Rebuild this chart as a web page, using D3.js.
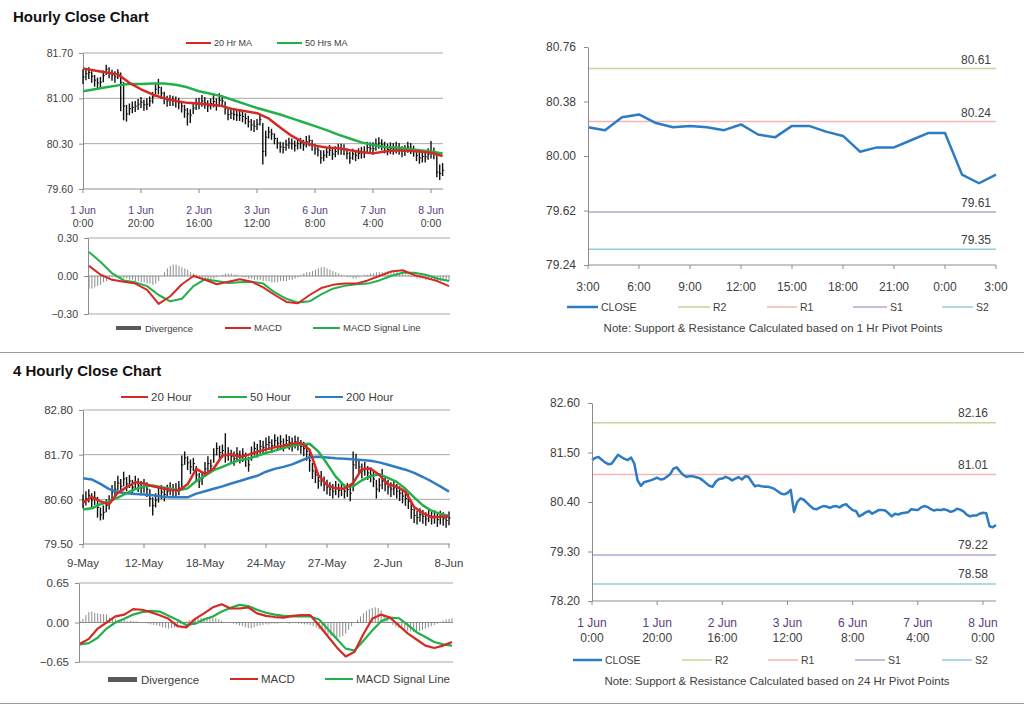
<!DOCTYPE html>
<html><head><meta charset="utf-8">
<script src="https://cdn.jsdelivr.net/npm/d3@7"></script>
<style>body{margin:0;background:#fff}svg{display:block}</style>
</head><body>
<svg id="c" width="1024" height="706"></svg>
<script>
// ---------------- DATA ----------------
// Hourly bars (1 Jun 0:00 .. 8 Jun ~4:00)
const hourlyTickIdx = [0,20,40,60,80,100,120];
const hourlyTickDay = ["1 Jun","1 Jun","2 Jun","3 Jun","6 Jun","7 Jun","8 Jun"];
const hourlyTickTime = ["0:00","20:00","16:00","12:00","8:00","4:00","0:00"];
const hClose = [81.33,81.38,81.40,81.34,81.28,81.24,81.25,81.35,81.45,81.40,81.36,81.33,81.39,81.25,80.88,80.76,80.84,80.86,80.88,80.91,
80.94,80.90,80.91,80.96,81.02,81.14,81.17,81.08,81.00,80.96,80.97,80.97,80.95,80.93,80.88,80.82,80.76,80.74,80.85,80.91,
80.92,80.96,80.93,80.88,80.92,80.95,80.90,80.97,80.96,80.85,80.75,80.77,80.75,80.74,80.74,80.72,80.69,80.64,80.59,80.57,
80.60,80.67,80.18,80.40,80.48,80.45,80.38,80.31,80.25,80.24,80.28,80.31,80.30,80.27,80.30,80.31,80.28,80.33,80.35,80.28,
80.22,80.20,80.08,80.12,80.17,80.20,80.14,80.18,80.22,80.22,80.21,80.15,80.08,80.14,80.12,80.15,80.16,80.17,80.24,80.23,
80.22,80.28,80.31,80.29,80.24,80.21,80.23,80.22,80.24,80.22,80.18,80.20,80.25,80.23,80.19,80.12,80.08,80.10,80.10,80.14,
80.16,80.15,79.86,79.84,79.89];
const hHigh = [81.45,81.47,81.48,81.42,81.36,81.32,81.33,81.43,81.52,81.48,81.44,81.42,81.45,81.40,81.25,80.90,80.92,80.95,80.96,80.99,
81.02,80.98,81.00,81.03,81.10,81.24,81.30,81.18,81.10,81.04,81.05,81.04,81.03,81.01,80.96,80.90,80.85,80.83,80.93,81.00,
81.01,81.05,81.02,80.97,81.00,81.05,81.00,81.08,81.05,80.95,80.84,80.85,80.83,80.82,80.82,80.80,80.77,80.73,80.68,80.66,
80.68,80.76,80.62,80.50,80.56,80.53,80.46,80.39,80.33,80.32,80.36,80.39,80.38,80.35,80.38,80.39,80.36,80.42,80.43,80.36,
80.30,80.28,80.20,80.20,80.25,80.28,80.22,80.26,80.30,80.30,80.29,80.23,80.17,80.22,80.20,80.23,80.25,80.26,80.33,80.32,
80.32,80.38,80.40,80.37,80.33,80.30,80.32,80.31,80.33,80.31,80.26,80.28,80.33,80.31,80.27,80.20,80.17,80.18,80.19,80.23,
80.34,80.24,80.12,79.98,80.00];
const hLow = [81.22,81.28,81.30,81.24,81.18,81.15,81.16,81.25,81.36,81.31,81.27,81.24,81.30,80.80,80.66,80.64,80.74,80.77,80.79,80.82,
80.85,80.81,80.82,80.87,80.92,81.02,81.06,80.99,80.91,80.87,80.88,80.88,80.86,80.83,80.78,80.70,80.58,80.62,80.76,80.82,
80.83,80.87,80.84,80.79,80.83,80.86,80.81,80.88,80.87,80.75,80.66,80.68,80.66,80.65,80.65,80.63,80.60,80.55,80.50,80.48,
80.51,80.58,79.98,80.10,80.38,80.36,80.29,80.22,80.16,80.15,80.19,80.22,80.21,80.18,80.21,80.22,80.19,80.24,80.26,80.19,
80.13,80.10,79.99,80.03,80.08,80.11,80.05,80.09,80.13,80.13,80.12,80.06,79.99,80.05,80.03,80.06,80.07,80.08,80.15,80.14,
80.13,80.19,80.22,80.20,80.15,80.12,80.14,80.13,80.15,80.13,80.09,80.11,80.16,80.14,80.10,80.03,79.99,80.01,80.01,80.05,
80.07,80.06,79.78,79.74,79.80];
// moving averages, read every 4th hourly bar
const hSampleStep = 4;
const hMA20 = [81.46,81.43,81.40,81.37,81.24,81.14,81.06,81.00,80.96,80.93,80.92,80.90,80.88,80.83,80.80,80.77,
80.69,80.55,80.42,80.32,80.27,80.24,80.23,80.20,80.17,80.15,80.18,80.20,80.19,80.18,80.16,80.11];
const hMA50 = [81.11,81.14,81.17,81.20,81.22,81.22,81.23,81.23,81.21,81.17,81.11,81.07,81.03,80.97,80.91,80.85,
80.80,80.75,80.69,80.63,80.57,80.51,80.44,80.38,80.32,80.28,80.25,80.24,80.22,80.20,80.18,80.15];
const hMACD = [0.08,0.01,-0.03,-0.045,-0.06,-0.11,-0.22,-0.16,-0.065,0.0,-0.03,-0.065,-0.045,-0.025,-0.045,-0.09,
-0.15,-0.205,-0.215,-0.15,-0.095,-0.07,-0.06,-0.06,-0.035,0.0,0.035,0.045,0.008,-0.015,-0.04,-0.08];
const hSignal = [0.19,0.11,0.02,-0.035,-0.05,-0.08,-0.15,-0.20,-0.18,-0.08,-0.025,-0.04,-0.055,-0.05,-0.045,-0.06,
-0.13,-0.18,-0.21,-0.20,-0.145,-0.10,-0.078,-0.065,-0.06,-0.035,0.0,0.025,0.026,0.01,-0.02,-0.04];
const hDiverg = [-0.10,-0.10,-0.09,-0.08,-0.07,-0.05,-0.04,-0.03,
-0.01,-0.01,-0.01,-0.02,-0.02,-0.02,-0.03,-0.03,-0.04,-0.04,-0.05,-0.05,-0.06,-0.06,-0.07,-0.06,-0.04,
0.0,0.03,0.06,0.08,0.09,0.09,0.08,0.07,0.06,0.05,0.03,0.02,0.01,
-0.01,-0.02,-0.02,-0.03,-0.02,-0.02,-0.01,0.0,0.01,0.02,
0.02,0.02,0.01,0.01,0.0,
-0.01,-0.01,-0.02,-0.02,-0.03,-0.03,-0.03,-0.04,-0.04,-0.04,-0.05,-0.05,-0.05,-0.04,-0.04,-0.04,-0.03,-0.03,-0.02,-0.01,
0.01,0.02,0.03,0.03,0.04,0.05,0.06,0.07,0.07,0.06,0.05,0.04,0.03,0.02,0.01,
0.0,-0.01,-0.01,-0.02,-0.02,-0.01,0.0,0.01,0.01,0.02,0.02,0.03,0.03,
0.03,0.03,0.04,0.04,0.03,0.03,0.02,0.02,0.01,0.01,
-0.01,-0.01,-0.02,-0.02,-0.02,-0.03,-0.03,-0.03,-0.03,-0.04,-0.04,-0.04,-0.04,-0.04];

// Last 24 hours, 1 Hr pivots
const trHours = ["3:00","6:00","9:00","12:00","15:00","18:00","21:00","0:00","3:00"];
const trClose = [80.20,80.18,80.27,80.29,80.23,80.20,80.21,80.20,80.18,80.22,80.15,80.13,80.21,80.21,80.17,80.14,
80.03,80.06,80.06,80.11,80.16,80.16,79.87,79.81,79.87];
const trLevelNames = ["R2","R1","S1","S2"];
const trLevels = [80.61,80.24,79.61,79.35];
const trYTicks = [80.76,80.38,80.00,79.62,79.24];
// 24 Hr pivots
const brLevels = [82.16,81.01,79.22,78.58];
const brYTicks = [82.60,81.50,80.40,79.30,78.20];

// 4-hourly bars
const fhTickIdx = [0,21,42,63,84,105,126];
const fhTickLabels = ["9-May","12-May","18-May","24-May","27-May","2-Jun","8-Jun"];
const fhClose = [80.55,80.62,80.70,80.58,80.64,80.40,80.22,80.28,80.45,80.52,80.78,80.85,81.00,80.92,81.10,80.98,81.05,80.90,81.02,80.95,
80.88,80.94,80.85,80.62,80.45,80.58,80.70,80.78,80.72,80.80,80.86,80.82,80.85,80.88,81.45,81.62,81.50,81.40,81.48,81.20,
81.05,81.12,81.35,81.48,81.42,81.70,81.85,81.75,81.80,81.68,81.72,81.66,81.60,81.72,81.65,81.70,81.58,81.45,81.75,81.85,
81.80,81.90,81.88,81.95,82.00,81.92,82.05,81.98,82.02,81.95,82.05,82.00,81.96,82.02,81.98,81.90,81.85,81.78,81.55,81.30,
81.20,81.05,81.12,80.98,80.90,80.85,80.80,80.88,80.82,80.86,80.80,80.84,80.75,81.45,81.55,81.40,81.30,81.35,81.25,81.20,
81.10,80.85,80.95,81.05,80.98,80.90,80.85,80.88,80.80,80.75,80.68,80.62,80.55,80.35,80.20,80.15,80.22,80.18,80.12,80.20,
80.15,80.18,80.10,80.16,80.12,80.08,80.14];
const fhHigh = [80.72,80.80,80.85,80.75,80.80,80.66,80.40,80.45,80.60,80.70,80.95,81.05,81.18,81.10,81.28,81.15,81.20,81.08,81.18,81.12,
81.05,81.10,81.02,80.85,80.65,80.75,80.88,80.95,80.90,80.96,81.02,80.98,81.00,81.05,81.68,81.78,81.66,81.58,81.62,81.42,
81.25,81.30,81.52,81.66,81.58,81.86,82.00,81.92,81.95,82.23,81.88,81.82,81.78,81.88,81.80,81.86,81.75,81.65,81.90,82.02,
81.96,82.06,82.04,82.12,82.16,82.08,82.20,82.14,82.18,82.10,82.20,82.16,82.12,82.17,82.14,82.06,82.02,81.95,81.80,81.50,
81.38,81.24,81.30,81.16,81.08,81.02,80.98,81.05,80.99,81.02,80.97,81.00,80.92,81.78,81.72,81.58,81.48,81.52,81.42,81.38,
81.30,81.08,81.12,81.35,81.16,81.08,81.02,81.05,80.98,80.92,80.86,80.80,80.74,80.55,80.38,80.32,80.38,80.34,80.28,80.36,
80.30,80.33,80.26,80.32,80.28,80.24,80.30];
const fhLow = [80.38,80.45,80.52,80.40,80.46,80.15,80.08,80.10,80.28,80.35,80.60,80.68,80.82,80.75,80.92,80.80,80.88,80.72,80.85,80.78,
80.70,80.76,80.66,80.42,80.20,80.40,80.52,80.60,80.55,80.63,80.70,80.66,80.68,80.70,80.90,81.45,81.32,81.22,81.30,81.02,
80.88,80.95,81.15,81.30,81.25,81.50,81.68,81.58,81.62,81.50,81.55,81.50,81.43,81.55,81.48,81.52,81.40,81.28,81.55,81.68,
81.63,81.72,81.70,81.78,81.82,81.75,81.88,81.80,81.85,81.78,81.88,81.82,81.78,81.85,81.80,81.72,81.66,81.55,81.28,81.10,
81.00,80.86,80.92,80.80,80.72,80.68,80.62,80.70,80.64,80.68,80.62,80.66,80.55,80.80,81.35,81.22,81.12,81.18,81.08,81.02,
80.90,80.62,80.78,80.85,80.80,80.72,80.66,80.70,80.62,80.56,80.50,80.44,80.36,80.12,80.02,79.98,80.05,80.00,79.95,80.04,
79.98,80.00,79.92,79.98,79.95,79.90,79.96];
// moving averages / MACD read every 3rd 4-hour bar
const fhSampleStep = 3;
const fhMA20 = [80.52,80.66,80.55,80.48,80.76,80.90,81.02,80.99,80.92,80.88,80.83,80.82,80.97,81.35,81.22,81.36,81.68,81.71,81.65,81.70,
81.77,81.83,81.88,81.92,81.97,81.99,81.82,81.20,80.95,80.87,80.86,81.00,81.35,81.36,81.20,80.97,80.91,80.79,80.41,80.26,
80.16,80.17,80.18];
const fhMA50 = [80.35,80.38,80.48,80.55,80.64,80.75,80.85,80.92,80.94,80.90,80.86,80.82,80.87,81.05,81.18,81.32,81.40,81.49,81.57,81.60,
81.67,81.74,81.80,81.86,81.92,81.95,81.97,81.78,81.48,81.16,80.93,80.92,81.07,81.17,81.22,81.13,81.03,80.86,80.65,80.45,
80.32,80.24,80.19];
const fhMA200 = [81.12,81.09,80.98,80.85,80.78,80.75,80.73,80.72,80.70,80.67,80.65,80.65,80.65,80.74,80.80,80.86,80.92,80.99,81.05,81.12,
81.18,81.28,81.35,81.40,81.46,81.55,81.64,81.65,81.63,81.61,81.60,81.59,81.57,81.55,81.51,81.45,81.39,81.33,81.25,81.15,
81.04,80.92,80.79];
const fhMACD = [-0.35,-0.27,-0.10,0.00,0.10,0.13,0.22,0.21,0.17,0.12,0.06,-0.06,-0.08,0.06,0.15,0.25,0.30,0.23,0.23,0.25,
0.15,0.11,0.09,0.08,0.11,0.12,0.12,-0.05,-0.23,-0.41,-0.56,-0.48,-0.19,0.06,0.13,0.08,-0.05,-0.18,-0.28,-0.38,
-0.42,-0.38,-0.32];
const fhSignal = [-0.36,-0.34,-0.25,-0.10,0.00,0.06,0.13,0.17,0.19,0.18,0.11,0.04,-0.04,-0.02,0.05,0.10,0.18,0.24,0.29,0.27,
0.21,0.16,0.13,0.11,0.10,0.10,0.10,0.05,-0.11,-0.27,-0.43,-0.46,-0.30,-0.13,0.02,0.08,0.07,-0.04,-0.16,-0.24,
-0.32,-0.36,-0.38];
const fhDiverg = [0.03,0.06,0.12,0.17,0.18,0.16,0.15,0.14,0.14,0.13,0.08,0.06,0.05,0.04,
0.03,0.04,0.02,0.03,0.02,0.02,0.01,0.0,-0.01,
-0.02,-0.03,-0.04,-0.05,-0.06,-0.08,-0.09,-0.10,-0.09,-0.08,-0.05,
-0.02,0.0,0.02,0.04,
0.05,0.06,0.07,0.08,0.08,0.09,0.08,0.08,0.07,0.05,0.03,
0.01,0.0,-0.01,-0.02,
-0.03,-0.05,-0.06,-0.08,-0.09,-0.10,-0.08,-0.06,
-0.05,-0.04,-0.03,-0.03,-0.02,-0.02,-0.02,-0.01,-0.01,-0.01,-0.02,-0.01,-0.01,-0.02,-0.02,-0.03,-0.03,-0.04,-0.06,-0.08,
-0.11,-0.14,-0.17,-0.20,-0.22,-0.24,-0.25,-0.24,-0.22,-0.18,-0.12,-0.06,0.0,
0.05,0.10,0.15,0.19,0.22,0.24,0.25,0.24,0.20,0.13,0.06,
0.0,-0.04,-0.07,-0.09,-0.11,-0.12,-0.14,-0.15,-0.16,-0.15,-0.14,-0.12,-0.10,-0.08,-0.06,-0.04,-0.02,
0.01,0.03,0.05,0.06,0.07];

// ---------------- STYLE ----------------
const FONT = "'Liberation Sans', Arial, sans-serif";
const TXT = "#404040", GRID = "#a8a8a8", AXIS = "#8c8c8c";
const RED = "#d42a23", GREEN = "#22b04b", BLUE = "#2f7cc3", CLOSEC = "#2b7cc4";
const LVLC = {R2:"#c3d69b", R1:"#f2b6b6", S1:"#b7a5cf", S2:"#93cddd"};
const fmt2 = d3.format(".2f");

const svg = d3.select("#c").attr("font-family", FONT);

function text(x, y, s, size, opts = {}) {
  return svg.append("text").attr("x", x).attr("y", y).text(s)
    .attr("font-size", size).attr("fill", opts.fill || TXT)
    .attr("font-weight", opts.bold ? "bold" : null)
    .attr("text-anchor", opts.anchor || "start");
}
function hline(x1, x2, y, color, w = 1) {
  svg.append("line").attr("x1", x1).attr("x2", x2).attr("y1", y).attr("y2", y)
    .attr("stroke", color).attr("stroke-width", w);
}
function yAxis(x0, y, vals, size, pad) {
  const g = svg.append("g").attr("transform", `translate(${x0},0)`)
    .call(d3.axisLeft(y).tickValues(vals).tickSize(4).tickSizeOuter(0).tickPadding(pad).tickFormat(fmt2));
  g.attr("font-family", FONT).attr("font-size", size);
  g.select(".domain").attr("stroke", AXIS);
  g.selectAll(".tick line").attr("stroke", AXIS);
  g.selectAll(".tick text").attr("fill", TXT);
  return g;
}
function xTicks(x, y0, idx) {
  svg.append("g").selectAll("line").data(idx).join("line")
    .attr("x1", d => x(d)).attr("x2", d => x(d)).attr("y1", y0).attr("y2", y0 + 4)
    .attr("stroke", AXIS);
}
function legendLine(x1, x2, y, color, label, size, w = 2) {
  hline(x1, x2, y, color, w);
  text(x2 + 3, y + size * 0.36, label, size);
}
function pathLine(data, xf, y, color, w) {
  svg.append("path").datum(data)
    .attr("d", d3.line().x((d, i) => xf(i)).y(d => y(d)))
    .attr("fill", "none").attr("stroke", color).attr("stroke-width", w)
    .attr("stroke-linejoin", "round");
}
function ohlc(x, y, hi, lo, cl) {
  const g = svg.append("g").attr("stroke", "#111");
  g.selectAll("line.hl").data(hi).join("line").attr("class", "hl")
    .attr("x1", (d, i) => x(i)).attr("x2", (d, i) => x(i))
    .attr("y1", d => y(d)).attr("y2", (d, i) => y(lo[i])).attr("stroke-width", 1.4);
  g.selectAll("line.cl").data(cl).join("line").attr("class", "cl")
    .attr("x1", (d, i) => x(i)).attr("x2", (d, i) => x(i) + 1.6)
    .attr("y1", d => y(d)).attr("y2", d => y(d)).attr("stroke-width", 1);
}
function divBars(x, y, d) {
  svg.append("g").selectAll("line").data(d).join("line")
    .attr("x1", (v, i) => x(i)).attr("x2", (v, i) => x(i))
    .attr("y1", y(0)).attr("y2", v => y(v))
    .attr("stroke", "#8a8a8a").attr("stroke-width", 1);
}

// ---------------- TITLES / SEPARATORS ----------------
text(13, 22, "Hourly Close Chart", 15, {bold: true, fill: "#111"});
text(13, 376, "4 Hourly Close Chart", 15, {bold: true, fill: "#111"});
hline(0, 1024, 352.5, "#9a9a9a", 1);
hline(0, 1024, 703.5, "#9a9a9a", 1);

// ---------------- PANEL 1: hourly OHLC ----------------
{
  const x = d3.scaleLinear().domain([0, 124]).range([83, 442.6]);
  const y = d3.scaleLinear().domain([79.60, 81.70]).range([189, 53]);
  [81.70, 81.00, 80.30].forEach(v => hline(83, 443, y(v), GRID));
  hline(83, 443, y(79.60), AXIS);
  yAxis(83, y, [81.70, 81.00, 80.30, 79.60], 10.5, 6);
  xTicks(x, y(79.60), hourlyTickIdx);
  hourlyTickIdx.forEach((t, k) => {
    text(x(t), 214, hourlyTickDay[k], 10.5, {anchor: "middle", fill: "#5a3e7a"});
    text(x(t), 227, hourlyTickTime[k], 10.5, {anchor: "middle"});
  });
  ohlc(x, y, hHigh, hLow, hClose);
  const xm = i => x(i * hSampleStep);
  pathLine(hMA50, xm, y, GREEN, 2.5);
  pathLine(hMA20, xm, y, RED, 2.5);
  legendLine(186, 211, 43, RED, "20 Hr MA", 9);
  legendLine(277, 302, 43, GREEN, "50 Hrs MA", 9);
}
// ---------------- PANEL 2: hourly MACD ----------------
{
  const x = d3.scaleLinear().domain([0, 124]).range([89, 449]);
  const y = d3.scaleLinear().domain([-0.30, 0.30]).range([314, 238]);
  hline(88, 450, y(0.30), GRID);
  hline(88, 450, y(-0.30), GRID);
  divBars(x, y, hDiverg);
  hline(88, 450, y(0), AXIS);
  yAxis(88, y, [0.30, 0.00, -0.30], 10.5, 6);
  const xm = i => x(i * hSampleStep);
  pathLine(hSignal, xm, y, GREEN, 2);
  pathLine(hMACD, xm, y, RED, 2);
  svg.append("rect").attr("x", 116).attr("y", 326).attr("width", 25).attr("height", 4).attr("fill", "#595959");
  text(145, 331.5, "Divergence", 9.5);
  legendLine(225, 251, 328, RED, "MACD", 9.5);
  legendLine(313, 340, 328, GREEN, "MACD Signal Line", 9.5);
}
// ---------------- PANEL 3: 4 hourly OHLC ----------------
{
  const x = d3.scaleLinear().domain([0, 126]).range([83, 449]);
  const y = d3.scaleLinear().domain([79.50, 82.80]).range([544, 410]);
  [82.80, 81.70, 80.60].forEach(v => hline(83, 450, y(v), GRID));
  hline(83, 450, y(79.50), AXIS);
  yAxis(83, y, [82.80, 81.70, 80.60, 79.50], 11.5, 6);
  xTicks(x, y(79.50), fhTickIdx);
  fhTickIdx.forEach((t, k) => text(x(t), 567, fhTickLabels[k], 11.5, {anchor: "middle"}));
  ohlc(x, y, fhHigh, fhLow, fhClose);
  const xm = i => x(i * fhSampleStep);
  pathLine(fhMA200, xm, y, BLUE, 2.5);
  pathLine(fhMA50, xm, y, GREEN, 2.5);
  pathLine(fhMA20, xm, y, RED, 2.5);
  legendLine(121, 148, 397, RED, "20 Hour", 11.5);
  legendLine(218, 247, 397, GREEN, "50 Hour", 11.5);
  legendLine(315, 343, 397, BLUE, "200 Hour", 11.5);
}
// ---------------- PANEL 4: 4 hourly MACD ----------------
{
  const x = d3.scaleLinear().domain([0, 126]).range([80, 452]);
  const y = d3.scaleLinear().domain([-0.65, 0.65]).range([662, 583]);
  hline(79, 453, y(0.65), GRID);
  hline(79, 453, y(-0.65), GRID);
  divBars(x, y, fhDiverg);
  hline(79, 453, y(0), AXIS);
  yAxis(79, y, [0.65, 0.00, -0.65], 11.5, 6);
  const xm = i => x(i * fhSampleStep);
  pathLine(fhSignal, xm, y, GREEN, 2.2);
  pathLine(fhMACD, xm, y, RED, 2.2);
  svg.append("rect").attr("x", 108).attr("y", 677).attr("width", 29).attr("height", 5).attr("fill", "#595959");
  text(141, 683.5, "Divergence", 11.5);
  legendLine(230, 258, 679, RED, "MACD", 11.5);
  legendLine(325, 353, 679, GREEN, "MACD  Signal Line", 11.5);
}
// ---------------- PANEL 5: last 24h with 1 Hr pivots ----------------
{
  const x = d3.scaleLinear().domain([0, 24]).range([588, 996]);
  const y = d3.scaleLinear().domain([79.24, 80.76]).range([265, 47]);
  trLevels.forEach((v, k) => {
    hline(588, 996, y(v), LVLC[trLevelNames[k]], 1.5);
    text(991, y(v) - 5, fmt2(v), 12, {anchor: "end"});
  });
  pathLine(trClose, i => x(i), y, CLOSEC, 2.5);
  yAxis(588, y, trYTicks, 12, 8);
  hline(588, 996, 265, AXIS);
  xTicks(x, 265, d3.range(0, 25, 3));
  trHours.forEach((h, k) => text(x(k * 3), 291, h, 12, {anchor: "middle"}));
  legendLine(567, 598, 307, CLOSEC, "CLOSE", 10.5, 2.5);
  legendLine(678, 710, 307, LVLC.R2, "R2", 10.5, 1.5);
  legendLine(767, 797, 307, LVLC.R1, "R1", 10.5, 1.5);
  legendLine(853, 887, 307, LVLC.S1, "S1", 10.5, 1.5);
  legendLine(942, 973, 307, LVLC.S2, "S2", 10.5, 1.5);
  text(773, 332, "Note: Support & Resistance Calculated based on 1 Hr Pivot Points", 11.5, {anchor: "middle"});
}
// ---------------- PANEL 6: hourly close with 24 Hr pivots ----------------
{
  const x = d3.scaleLinear().domain([0, 124]).range([592, 996]);
  const y = d3.scaleLinear().domain([78.20, 82.60]).range([601, 403]);
  brLevels.forEach((v, k) => {
    hline(592, 996, y(v), LVLC[trLevelNames[k]], 1.5);
    text(988, y(v) - 6, fmt2(v), 12, {anchor: "end"});
  });
  pathLine(hClose, i => x(i), y, CLOSEC, 2.5);
  yAxis(592, y, brYTicks, 12, 8);
  hline(592, 996, 601, AXIS);
  xTicks(x, 601, hourlyTickIdx);
  hourlyTickIdx.forEach((t, k) => {
    text(x(t), 627, hourlyTickDay[k], 12, {anchor: "middle", fill: "#5a3e7a"});
    text(x(t), 642, hourlyTickTime[k], 12, {anchor: "middle"});
  });
  legendLine(573, 602, 660, CLOSEC, "CLOSE", 10.5, 2.5);
  legendLine(682, 712, 660, LVLC.R2, "R2", 10.5, 1.5);
  legendLine(768, 798, 660, LVLC.R1, "R1", 10.5, 1.5);
  legendLine(855, 885, 660, LVLC.S1, "S1", 10.5, 1.5);
  legendLine(942, 972, 660, LVLC.S2, "S2", 10.5, 1.5);
  text(777, 685, "Note: Support & Resistance Calculated based on 24 Hr Pivot Points", 11.5, {anchor: "middle"});
}
</script>
</body></html>
